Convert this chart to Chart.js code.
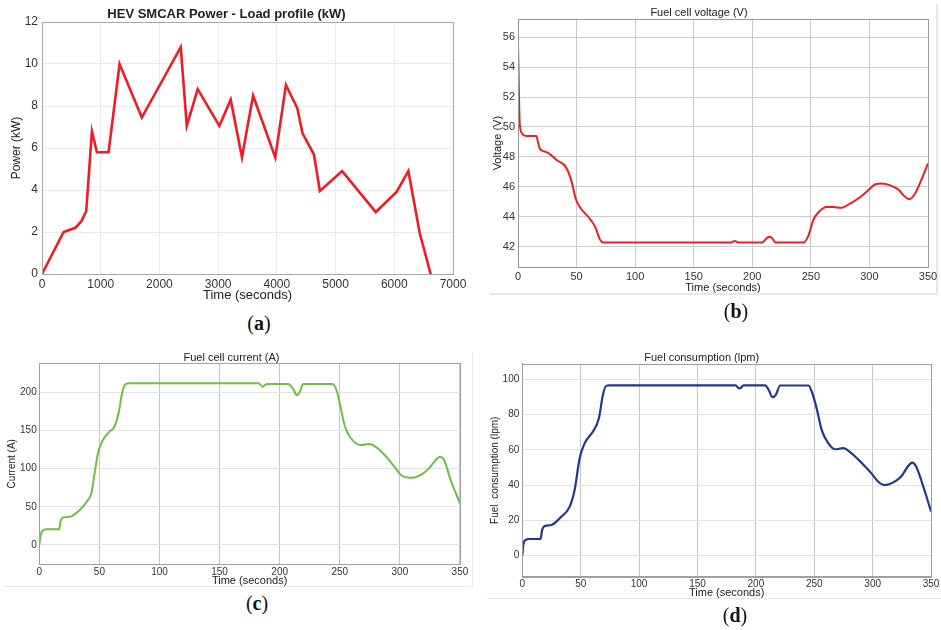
<!DOCTYPE html>
<html>
<head>
<meta charset="utf-8">
<script src="https://cdn.jsdelivr.net/npm/chart.js@4.4.1/dist/chart.umd.min.js"></script>
<style>
body{margin:0;background:#fff;width:941px;height:630px;position:relative;overflow:hidden;font-family:'Liberation Sans',Arial,sans-serif}
.box{position:absolute}
.cap{position:absolute;font-family:'Liberation Serif','DejaVu Serif',serif;font-size:20px;color:#111;transform:translate(-50%,-50%)}
.rule{position:absolute;background:#e8e8e8}
</style>
</head>
<body>
<div class="rule" style="left:490px;top:293px;width:448px;height:2px"></div>
<div class="rule" style="left:936px;top:4px;width:2px;height:290px"></div>
<div class="rule" style="left:4px;top:586px;width:466px;height:1px"></div>
<div class="rule" style="left:472px;top:352px;width:1px;height:236px"></div>
<div class="rule" style="left:487px;top:598px;width:454px;height:1px"></div>

<div class="box" style="left:0;top:0;width:470px;height:305px"><canvas id="ca"></canvas></div>
<div class="box" style="left:470px;top:0;width:471px;height:300px"><canvas id="cb"></canvas></div>
<div class="box" style="left:0;top:340px;width:470px;height:250px"><canvas id="cc"></canvas></div>
<div class="box" style="left:470px;top:340px;width:471px;height:262px"><canvas id="cd"></canvas></div>

<div class="cap" style="left:259px;top:323px">(<b>a</b>)</div>
<div class="cap" style="left:736px;top:311px">(<b>b</b>)</div>
<div class="cap" style="left:257px;top:603px">(<b>c</b>)</div>
<div class="cap" style="left:735px;top:615px">(<b>d</b>)</div>

<script>
// (a) load profile
const loadTime = [0,368,567,669,754,850,935,1134,1321,1700,2363,2466,2652,3021,3214,3406,3595,3973,4155,4348,4437,4630,4733,5112,5685,6036,6240,6433,6620];
const loadPower = [0,2.0,2.2,2.5,3.0,6.8,5.8,5.8,10.0,7.45,10.8,7.05,8.8,7.05,8.3,5.55,8.5,5.55,9.0,7.9,6.7,5.7,3.95,4.9,2.95,3.9,4.9,1.95,0];

// (b) fuel cell voltage
const vTime = [0,0.5,1,1.5,3.4,7,15.7,17,19,24,27,33,41,45.6,49.3,52.7,61,66,70,72.7,181,185.2,188,208,214.3,216.6,220,243.6,248,252,256.5,263.6,269,276,283.5,292,299,305,310.5,317.8,325,329,334,339,344.8,350];
const voltage = [55.6,53.5,51.5,50.2,49.57,49.4,49.4,49.0,48.5,48.34,48.2,47.8,47.3,46.4,45.2,44.65,43.9,43.3,42.47,42.27,42.27,42.38,42.27,42.27,42.67,42.6,42.27,42.27,42.76,43.76,44.3,44.65,44.65,44.6,44.88,45.3,45.77,46.17,46.22,46.1,45.8,45.44,45.17,45.55,46.55,47.56];

// (c) fuel cell current
const cTime = [0,1.1,2.8,5.5,16.5,17.6,19.8,25.4,33.6,40.5,43.3,46,48.8,52.9,58.4,62.5,65.9,68.9,71.6,75,182.4,185.7,189.3,207.2,211.4,214.1,216.9,219.6,243.9,247.2,250,254,258.2,263.7,267.8,274.7,281.6,289.9,295.4,300.9,306.4,310.5,317.4,324.3,329.8,333.4,336.8,342.3,350];
const current = [0,13,18.8,20.5,20.5,30.6,36.2,37,45.9,59,67.7,94,120,137.5,148.5,155,172.5,198.7,210.5,211.8,211.8,207.4,211,211,204,196.5,200.9,211,211,203,185.6,157,142,133,131,132.3,126.6,113.5,102.6,91.7,88.5,88.2,91.7,100.4,111.4,115.7,111.4,85,54.6];

// (d) fuel consumption
const fTime = [0,0.85,2.8,5.7,15.6,17,19.3,25,32,40.6,44.8,49.1,53.4,60.5,65.6,69,71.8,74.6,182.5,186,189.6,208,210.9,214.3,217.1,220.8,245,247.8,252,256.3,262,267.7,274.8,281.9,290.4,298.9,304.6,310.2,317.3,324.4,330.1,333.8,337.2,344.3,350];
const fuel = [0,6,8.9,9.45,9.45,14.6,16.8,17.4,21.2,27.8,37.2,55.2,63.7,70.3,77.9,91,96.2,96.5,96.5,94.7,96.5,96.5,94,89.8,91.1,96.4,96.4,93,83.6,71.3,63.7,60.3,60.9,58,52.7,46.7,42,40,41.4,44.8,50.5,52.7,50.5,37.2,25];

const timeTicks7000 = [0,1000,2000,3000,4000,5000,6000,7000];
const powerTicks = [0,2,4,6,8,10,12];
const timeTicks350 = [0,50,100,150,200,250,300,350];
const voltTicks = [42,44,46,48,50,52,54,56];
const currentTicks = [0,50,100,150,200];
const fuelTicks = [0,20,40,60,80,100];

function zip(xs, ys){ return xs.map((x,i)=>({x:x, y:ys[i]})); }
function fixedTicks(vals){ return s => { s.ticks = vals.map(v => ({value:v})); }; }
const plain = v => String(v);

const frame = {
  id: 'frame',
  afterDraw(chart, args, opts){
    const a = chart.chartArea, ctx = chart.ctx;
    ctx.save();
    ctx.strokeStyle = opts.color || '#999';
    ctx.lineWidth = 1;
    ctx.strokeRect(Math.round(a.left)+0.5, Math.round(a.top)+0.5, Math.round(a.right-a.left), Math.round(a.bottom-a.top));
    ctx.restore();
  }
};

function makeChart(id, c){
  return new Chart(document.getElementById(id), {
    type: 'line',
    data: { datasets: [{
      data: zip(c.xs, c.ys),
      borderColor: c.color,
      borderWidth: c.lw,
      pointRadius: 0,
      tension: c.smooth ? 0.4 : 0,
      cubicInterpolationMode: c.smooth ? 'monotone' : 'default'
    }]},
    options: {
      responsive: true,
      maintainAspectRatio: false,
      animation: false,
      layout: { padding: { left: 0, right: c.padR, top: 0, bottom: 0 } },
      plugins: {
        legend: { display: false },
        tooltip: { enabled: false },
        frame: { color: c.frameColor },
        title: {
          display: true, text: c.title, color: '#222',
          font: { size: c.titleSize, weight: c.titleWeight, lineHeight: 1 },
          padding: { top: c.titleTop, bottom: c.titleBottom }
        }
      },
      scales: {
        x: {
          type: 'linear', min: c.xMin, max: c.xMax,
          afterBuildTicks: fixedTicks(c.xTicks),
          afterFit: s => { s.height = c.xH; },
          grid: { color: c.xGrid, drawTicks: false },
          border: { color: c.frameColor },
          ticks: { color: '#333', font: { size: c.tickSize }, padding: c.xPad, maxRotation: 0, callback: plain },
          title: { display: true, text: 'Time (seconds)', color: '#222', font: { size: c.axTitleSize }, padding: { top: 0, bottom: c.xTitlePad } }
        },
        y: {
          min: c.yMin, max: c.yMax,
          afterBuildTicks: fixedTicks(c.yTicks),
          afterFit: s => { s.width = c.yW; },
          grid: { color: c.yGrid, drawTicks: false },
          border: { color: c.frameColor },
          ticks: { color: '#333', font: { size: c.tickSize }, padding: c.yPad, callback: plain },
          title: { display: true, text: c.yTitle, color: '#222', font: { size: c.yTitleSize }, padding: { top: c.yTitlePad, bottom: 0 } }
        }
      }
    },
    plugins: [frame]
  });
}

makeChart('ca', {
  xs: loadTime, ys: loadPower, color: '#ee1c25', lw: 2.6, smooth: false,
  title: 'HEV SMCAR Power - Load profile (kW)', titleSize: 13, titleWeight: 'bold', titleTop: 7.5, titleBottom: 1.5,
  xMin: 0, xMax: 7000, xTicks: timeTicks7000, yMin: 0, yMax: 12, yTicks: powerTicks,
  yTitle: 'Power (kW)', yTitleSize: 12, yTitlePad: 9, axTitleSize: 13, xTitlePad: 1.5,
  tickSize: 12, xPad: 3, yPad: 4, xH: 31, yW: 42, padR: 17,
  xGrid: '#ebebeb', yGrid: '#ebebeb', frameColor: '#a8a8a8'
});

makeChart('cb', {
  xs: vTime, ys: voltage, color: '#ec1d25', lw: 2, smooth: true,
  title: 'Fuel cell voltage (V)', titleSize: 11, titleWeight: 'normal', titleTop: 7, titleBottom: 1.3,
  xMin: 0, xMax: 350, xTicks: timeTicks350, yMin: 40.64, yMax: 57.2, yTicks: voltTicks,
  yTitle: 'Voltage (V)', yTitleSize: 11, yTitlePad: 21.5, axTitleSize: 11, xTitlePad: 5.7,
  tickSize: 11, xPad: 3, yPad: 3, xH: 33, yW: 48, padR: 13,
  xGrid: '#cbcbcb', yGrid: '#cbcbcb', frameColor: '#9a9a9a'
});

makeChart('cc', {
  xs: cTime, ys: current, color: '#6dbf45', lw: 2, smooth: true,
  title: 'Fuel cell current (A)', titleSize: 11, titleWeight: 'normal', titleTop: 12.3, titleBottom: 0,
  xMin: 0, xMax: 350, xTicks: timeTicks350, yMin: -25.3, yMax: 238, yTicks: currentTicks,
  yTitle: 'Current (A)', yTitleSize: 10, yTitlePad: 6.5, axTitleSize: 11, xTitlePad: 2.7,
  tickSize: 10, xPad: 1.7, yPad: 2.6, xH: 25.7, yW: 39.3, padR: 7,
  xGrid: '#c6c6c6', yGrid: '#e2e2e2', frameColor: '#a0a0a0'
});

makeChart('cd', {
  xs: fTime, ys: fuel, color: '#24378a', lw: 2.2, smooth: true,
  title: 'Fuel consumption (lpm)', titleSize: 11, titleWeight: 'normal', titleTop: 12.8, titleBottom: 0,
  xMin: 0, xMax: 350, xTicks: timeTicks350, yMin: -11.9, yMax: 108.7, yTicks: fuelTicks,
  yTitle: 'Fuel  consumption (lpm)', yTitleSize: 10, yTitlePad: 19, axTitleSize: 11, xTitlePad: 2.4,
  tickSize: 10, xPad: 1.6, yPad: 3, xH: 25.3, yW: 52.3, padR: 7.7,
  xGrid: '#c6c6c6', yGrid: '#e2e2e2', frameColor: '#a0a0a0'
});
</script>
</body>
</html>
